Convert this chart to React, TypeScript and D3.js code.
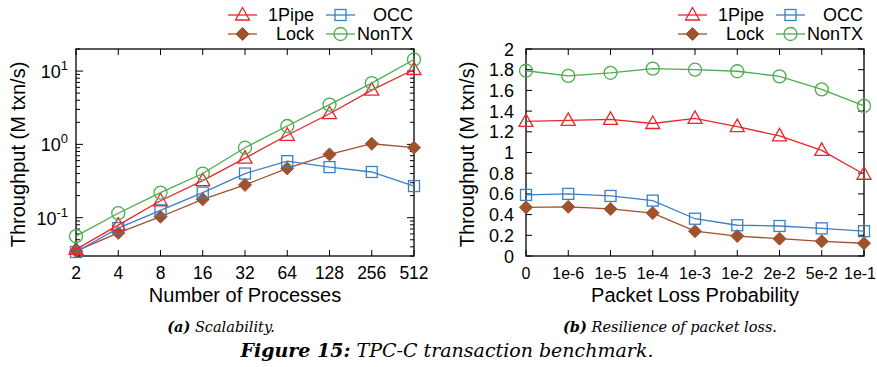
import * as d3 from 'd3';

// ---- data ----
const procLabels = ['2', '4', '8', '16', '32', '64', '128', '256', '512'];
const pipeScal = [0.037, 0.079, 0.17, 0.32, 0.65, 1.33, 2.62, 5.5, 10.5];
const occScal = [0.034, 0.072, 0.126, 0.22, 0.4, 0.59, 0.49, 0.42, 0.27];
const lockScal = [0.035, 0.062, 0.103, 0.178, 0.28, 0.47, 0.73, 1.02, 0.9];
const nontxScal = [0.056, 0.115, 0.22, 0.4, 0.9, 1.78, 3.48, 6.86, 14.4];

const lossLabels = ['0', '1e-6', '1e-5', '1e-4', '1e-3', '1e-2', '2e-2', '5e-2', '1e-1'];
const pipeLoss = [1.3, 1.31, 1.32, 1.28, 1.33, 1.25, 1.16, 1.02, 0.79];
const occLoss = [0.59, 0.6, 0.58, 0.535, 0.36, 0.297, 0.29, 0.267, 0.24];
const lockLoss = [0.47, 0.475, 0.455, 0.415, 0.24, 0.193, 0.167, 0.142, 0.123];
const nontxLoss = [1.79, 1.74, 1.77, 1.81, 1.8, 1.785, 1.736, 1.61, 1.45];

const linTicks = [0, 0.2, 0.4, 0.6, 0.8, 1, 1.2, 1.4, 1.6, 1.8, 2];
const logMajor = [-1, 0, 1];

const RED = '#e8262b';
const BLUE = '#3b7fc4';
const BROWN = '#a0522d';
const GREEN = '#4aae4a';
const FONT = '"Liberation Sans", Arial, Helvetica, sans-serif';
const SERIF = '"DejaVu Serif", "Liberation Serif", serif';

type Kind = 'tri' | 'sq' | 'dia' | 'circ';

const Marker = ({ kind, x, y, color }: { kind: Kind; x: number; y: number; color: string }) => {
  if (kind === 'tri')
    return <path d={`M${x},${y - 7.5}L${x + 7},${y + 5}L${x - 7},${y + 5}Z`} fill="none" stroke={color} strokeWidth={1.3} />;
  if (kind === 'sq')
    return <rect x={x - 5.5} y={y - 5.5} width={11} height={11} fill="none" stroke={color} strokeWidth={1.3} />;
  if (kind === 'dia')
    return <path d={`M${x},${y - 6.5}L${x + 6.5},${y}L${x},${y + 6.5}L${x - 6.5},${y}Z`} fill={color} stroke={color} strokeWidth={1} />;
  return <circle cx={x} cy={y} r={6.5} fill="none" stroke={color} strokeWidth={1.3} />;
};

interface Series { name: string; values: number[]; color: string; kind: Kind }

const left = 76, width = 338, top = 49, height = 207;

const Legend = () => {
  const items = [
    { name: '1Pipe', color: RED, kind: 'tri' as Kind, sx: 228, tx: 314, y: 15 },
    { name: 'OCC', color: BLUE, kind: 'sq' as Kind, sx: 326, tx: 413, y: 15 },
    { name: 'Lock', color: BROWN, kind: 'dia' as Kind, sx: 228, tx: 314, y: 34 },
    { name: 'NonTX', color: GREEN, kind: 'circ' as Kind, sx: 326, tx: 413, y: 34 },
  ];
  return (
    <g>
      {items.map(it => (
        <g key={it.name}>
          <line x1={it.sx} x2={it.sx + 29} y1={it.y} y2={it.y} stroke={it.color} strokeWidth={1.3} />
          <Marker kind={it.kind} x={it.sx + 14.5} y={it.y} color={it.color} />
          <text x={it.tx} y={it.y + 6} textAnchor="end" fontSize={18}>{it.name}</text>
        </g>
      ))}
    </g>
  );
};

const Panel = ({ dx, labels, series, log, xTitle, tickFont }: {
  dx: number; labels: string[]; series: Series[]; log: boolean; xTitle: string; tickFont: number;
}) => {
  const x = d3.scalePoint<string>().domain(labels).range([left, left + width]);
  const y = log
    ? d3.scaleLog().domain([0.03, 20]).range([top + height, top])
    : d3.scaleLinear().domain([0, 2]).range([top + height, top]);
  const line = d3.line<number>().x((_, i) => x(labels[i]) ?? 0).y(d => y(d));

  const minor: number[] = [];
  if (log) {
    for (let e = -2; e <= 1; e++)
      for (let m = 2; m <= 9; m++) {
        const v = m * Math.pow(10, e);
        if (v >= 0.03 && v <= 20) minor.push(v);
      }
  }
  // keep the last tick label inside the 877px page
  const labelX = (l: string) => Math.min(x(l) ?? 0, 876 - dx - tickFont);

  return (
    <g transform={`translate(${dx},0)`}>
      {/* ticks */}
      {labels.map(l => (
        <g key={l}>
          <line x1={x(l)} x2={x(l)} y1={top + height} y2={top + height - 6} stroke="#000" />
          <line x1={x(l)} x2={x(l)} y1={top} y2={top + 6} stroke="#000" />
          <text x={labelX(l)} y={279} textAnchor="middle" fontSize={tickFont}>{l}</text>
        </g>
      ))}
      {log ? (
        <>
          {logMajor.map(e => {
            const yy = y(Math.pow(10, e));
            return (
              <g key={e}>
                <line x1={left} x2={left + 7} y1={yy} y2={yy} stroke="#000" />
                <line x1={left + width} x2={left + width - 7} y1={yy} y2={yy} stroke="#000" />
                <text x={left - 8} y={yy + 7} textAnchor="end" fontSize={18}>
                  10<tspan dy={-8} fontSize={13}>{e}</tspan>
                </text>
              </g>
            );
          })}
          {minor.map(v => (
            <g key={v}>
              <line x1={left} x2={left + 4} y1={y(v)} y2={y(v)} stroke="#000" />
              <line x1={left + width} x2={left + width - 4} y1={y(v)} y2={y(v)} stroke="#000" />
            </g>
          ))}
        </>
      ) : (
        linTicks.map(v => (
          <g key={v}>
            <line x1={left} x2={left + 6} y1={y(v)} y2={y(v)} stroke="#000" />
            <line x1={left + width} x2={left + width - 6} y1={y(v)} y2={y(v)} stroke="#000" />
            <text x={left - 12} y={y(v) + 6.5} textAnchor="end" fontSize={18}>{d3.format('~g')(v)}</text>
          </g>
        ))
      )}
      <rect x={left} y={top} width={width} height={height} fill="none" stroke="#000" strokeWidth={1.3} />

      {/* series */}
      {series.map(s => (
        <g key={s.name}>
          <path d={line(s.values) ?? ''} fill="none" stroke={s.color} strokeWidth={1.3} />
          {s.values.map((v, i) => (
            <Marker key={i} kind={s.kind} x={x(labels[i]) ?? 0} y={y(v)} color={s.color} />
          ))}
        </g>
      ))}

      <text x={left + width / 2} y={302} textAnchor="middle" fontSize={20}>{xTitle}</text>
      <text transform={`translate(${log ? 25 : 24},${top + height / 2 + 2}) rotate(-90)`}
        textAnchor="middle" fontSize={20}>Throughput (M txn/s)</text>
      <Legend />
    </g>
  );
};

export default function App() {
  const scal: Series[] = [
    { name: 'Lock', values: lockScal, color: BROWN, kind: 'dia' },
    { name: 'OCC', values: occScal, color: BLUE, kind: 'sq' },
    { name: '1Pipe', values: pipeScal, color: RED, kind: 'tri' },
    { name: 'NonTX', values: nontxScal, color: GREEN, kind: 'circ' },
  ];
  const loss: Series[] = [
    { name: 'Lock', values: lockLoss, color: BROWN, kind: 'dia' },
    { name: 'OCC', values: occLoss, color: BLUE, kind: 'sq' },
    { name: '1Pipe', values: pipeLoss, color: RED, kind: 'tri' },
    { name: 'NonTX', values: nontxLoss, color: GREEN, kind: 'circ' },
  ];
  return (
    <svg width={877} height={367} style={{ position: 'absolute', left: 0, top: 0, background: '#fff' }}
      fontFamily={FONT}>
      <Panel dx={0} labels={procLabels} series={scal} log={true} xTitle="Number of Processes" tickFont={17.5} />
      <Panel dx={450} labels={lossLabels} series={loss} log={false} xTitle="Packet Loss Probability" tickFont={16} />
      <g fontFamily={SERIF} fontStyle="italic">
        <text x={221} y={332} textAnchor="middle" fontSize={14.5}>
          <tspan fontWeight="bold">(a)</tspan> Scalability.
        </text>
        <text x={670} y={332} textAnchor="middle" fontSize={14.5}>
          <tspan fontWeight="bold">(b)</tspan> Resilience of packet loss.
        </text>
        <text x={447} y={357} textAnchor="middle" fontSize={19}>
          <tspan fontWeight="bold">Figure 15:</tspan> TPC-C transaction benchmark.
        </text>
      </g>
    </svg>
  );
}
